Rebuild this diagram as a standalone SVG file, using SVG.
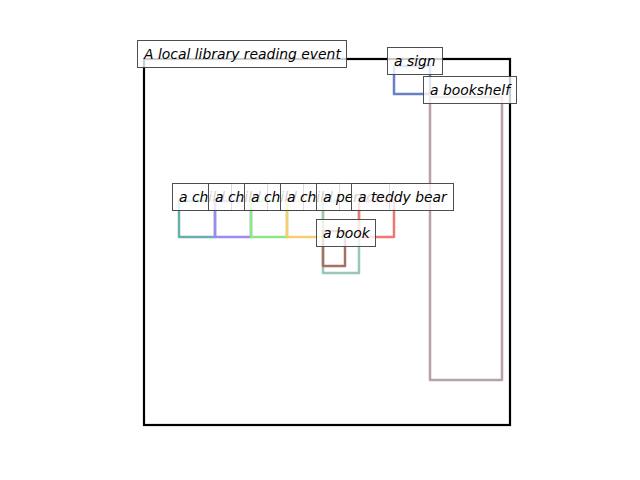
<svg xmlns="http://www.w3.org/2000/svg" width="640" height="480" viewBox="0 0 640 480">
<style>
.r{fill:none;stroke-width:2.5;stroke-linejoin:round}
.lb{fill:#fff;fill-opacity:0.8;stroke:#3c3c3c;stroke-opacity:0.9;stroke-width:1}
.t{font-family:"DejaVu Sans",sans-serif;font-style:oblique;font-size:13.9px;fill:#000}
</style>
<rect width="640" height="480" fill="#fff"/>
<g id="event">
<rect x="144" y="59" width="366" height="366" fill="none" stroke="#000" stroke-width="2.2"/>
<rect class="lb" x="137.5" y="40.5" width="209" height="27"/>
<text class="t" x="144" y="59">A local library reading event</text>
</g>
<g id="sign">
<rect class="r" x="394" y="66" width="36" height="28" stroke="#6a80c4"/>
<rect class="lb" x="387.5" y="47.5" width="55" height="27"/>
<text class="t" x="394" y="66">a sign</text>
</g>
<g id="bookshelf">
<rect class="r" x="430" y="97" width="72" height="283" stroke="#b8a0a8"/>
<rect class="lb" x="423.5" y="76.5" width="93" height="27"/>
<text class="t" x="430" y="95">a bookshelf</text>
</g>
<g id="child1">
<rect class="r" x="179" y="201" width="36" height="36" stroke="#6aafb0"/>
<rect class="lb" x="172.5" y="183.5" width="59" height="27"/>
<text class="t" x="179" y="202">a child</text>
</g>
<g id="child2">
<rect class="r" x="215" y="201" width="36" height="36" stroke="#9d8cf0"/>
<rect class="lb" x="208.5" y="183.5" width="59" height="27"/>
<text class="t" x="215" y="202">a child</text>
</g>
<g id="child3">
<rect class="r" x="251" y="201" width="36" height="36" stroke="#8ee888"/>
<rect class="lb" x="244.5" y="183.5" width="59" height="27"/>
<text class="t" x="251" y="202">a child</text>
</g>
<g id="child4">
<rect class="r" x="287" y="201" width="36" height="36" stroke="#f8cc70"/>
<rect class="lb" x="280.5" y="183.5" width="59" height="27"/>
<text class="t" x="287" y="202">a child</text>
</g>
<g id="person">
<rect class="r" x="323" y="201" width="36" height="72" stroke="#98c8b4"/>
<rect class="lb" x="316.5" y="183.5" width="73" height="27"/>
<text class="t" x="323" y="202">a person</text>
</g>
<g id="teddy">
<rect class="r" x="359" y="201" width="35" height="36" stroke="#f07870"/>
<rect class="lb" x="351.5" y="183.5" width="102" height="27"/>
<text class="t" x="358" y="202">a teddy bear</text>
</g>
<g id="book">
<rect class="r" x="323" y="231" width="22" height="35" stroke="#a87060"/>
<rect class="lb" x="316.5" y="219.5" width="59" height="27"/>
<text class="t" x="323" y="238">a book</text>
</g>
</svg>
